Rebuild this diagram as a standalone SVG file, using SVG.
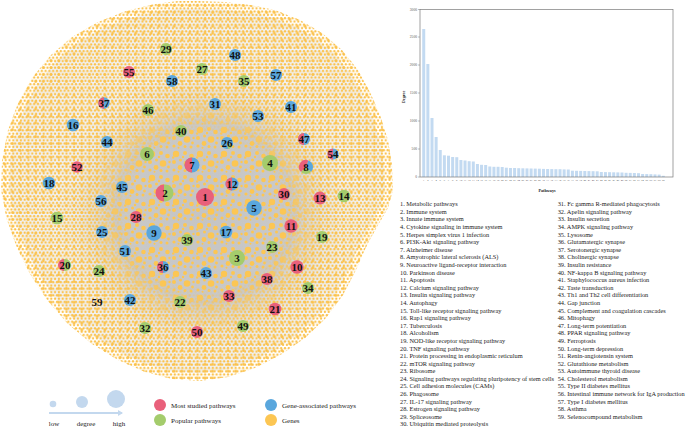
<svg xmlns="http://www.w3.org/2000/svg" width="685" height="428" viewBox="0 0 685 428">
<style>
.r{fill:#e9607b}.b{fill:#5aa7dd}.g{fill:#a4cc6c}.y{fill:#fcc653}
.lbl{font-family:"Liberation Serif",serif;font-weight:bold;font-size:11px;text-anchor:middle;fill:#111}
.leg{font-family:"Liberation Serif",serif;font-size:7px;fill:#222}
.lst{font-family:"Liberation Serif",serif;font-size:6.35px;fill:#222}
.tk{font-family:"Liberation Serif",serif;font-size:3.6px;fill:#555;text-anchor:end}
.xt{font-family:"Liberation Serif",serif;font-size:2.6px;fill:#555;text-anchor:middle}
.ax{font-family:"Liberation Serif",serif;font-weight:bold;font-size:4.2px;fill:#222;text-anchor:middle}
.bar rect{fill:#c3daf1}
</style>
<defs>
<polygon id="blobShape" points="198,1 225,2 250,5 275,10 300,20 322,33 342,50 358,70 370,92 380,115 388,140 392,165 393,190 388,208 378,225 367,245 356,270 343,295 326,318 305,338 282,354 255,368 228,377 200,381 172,379 145,372 118,360 92,344 68,324 47,300 30,274 17,248 7,220 1,190 2,160 8,130 18,103 32,78 50,56 72,37 98,22 126,11 155,4 178,1"/>
<clipPath id="blobClip"><use href="#blobShape"/></clipPath>
<pattern id="pSmall" width="3.8" height="6.6" patternUnits="userSpaceOnUse">
<circle cx="1.9" cy="1.65" r="1.15" fill="#fbc14a"/><circle cx="0" cy="4.95" r="1.15" fill="#fbc14a"/><circle cx="3.8" cy="4.95" r="1.15" fill="#fbc14a"/>
</pattern>
<pattern id="pSpark" width="7.7" height="6.9" patternUnits="userSpaceOnUse" x="1" y="2">
<circle cx="3.8" cy="3.4" r="1.5" fill="#fbc14a"/>
</pattern>
<pattern id="pBig" width="24" height="24" patternUnits="userSpaceOnUse" x="3" y="5">
<g fill="#fcc653">
<circle cx="5" cy="5" r="3.2"/><circle cx="14" cy="4" r="2"/><circle cx="20.5" cy="7" r="2.3"/><circle cx="9.5" cy="11" r="1.5"/><circle cx="3" cy="13" r="2"/><circle cx="16" cy="14.5" r="3.3"/><circle cx="9" cy="18.5" r="2.4"/><circle cx="21.5" cy="18" r="1.4"/><circle cx="3" cy="21" r="1.6"/><circle cx="14" cy="21.5" r="1.5"/><circle cx="20" cy="22" r="1.5"/><circle cx="12" cy="8" r="1.2"/><circle cx="2.2" cy="8.5" r="1.2"/><circle cx="22.5" cy="13" r="1.2"/><circle cx="7.5" cy="22.8" r="1"/>
</g>
</pattern>
<radialGradient id="gGray" gradientUnits="userSpaceOnUse" cx="205" cy="212" r="150">
<stop offset="0" stop-color="#c4c4c4"/><stop offset="0.6" stop-color="#c9c9c9"/><stop offset="1" stop-color="#ebebeb" stop-opacity="0"/>
</radialGradient>
<radialGradient id="gIn" gradientUnits="userSpaceOnUse" cx="205" cy="212" r="150">
<stop offset="0" stop-color="#fff"/><stop offset="0.55" stop-color="#fff"/><stop offset="0.8" stop-color="#000"/>
</radialGradient>
<radialGradient id="gOut" gradientUnits="userSpaceOnUse" cx="205" cy="212" r="150">
<stop offset="0" stop-color="#000"/><stop offset="0.5" stop-color="#000"/><stop offset="0.75" stop-color="#fff"/>
</radialGradient>
<mask id="mIn" maskUnits="userSpaceOnUse" x="0" y="0" width="400" height="390"><rect x="0" y="0" width="400" height="390" fill="url(#gIn)"/></mask>
<mask id="mOut" maskUnits="userSpaceOnUse" x="0" y="0" width="400" height="390"><rect x="0" y="0" width="400" height="390" fill="url(#gOut)"/></mask>
<marker id="arr" markerWidth="6" markerHeight="6" refX="4" refY="3" orient="auto" markerUnits="userSpaceOnUse"><path d="M0,0 L5,3 L0,6 Z" fill="#c3d8ee"/></marker>
</defs>
<rect width="685" height="428" fill="#fff"/>

<g id="connectors">
<use href="#blobShape" fill="#f1f1f1" transform="translate(197,190) scale(0.96) translate(-197,-190)"/>
<ellipse cx="205" cy="212" rx="150" ry="150" fill="url(#gGray)"/>
<g clip-path="url(#blobClip)">
<rect x="0" y="0" width="400" height="390" fill="url(#pSmall)" mask="url(#mOut)"/>
<rect x="0" y="0" width="400" height="390" fill="url(#pSpark)" mask="url(#mOut)"/>
<rect x="0" y="0" width="400" height="390" fill="url(#pBig)" mask="url(#mIn)"/>
</g>
</g>

<g id="nodes">
<g id="n1"><circle class="r" cx="205" cy="197" r="9"/><text class="lbl" x="205" y="200.7">1</text></g>
<g id="n2"><circle class="g" cx="165" cy="193" r="8.5"/><path class="r" d="M164,184.5 A8.5 8.5 0 0 0 164,201.5 Z"/><text class="lbl" x="165" y="196.7">2</text></g>
<g id="n3"><circle class="g" cx="237" cy="258" r="8"/><text class="lbl" x="237" y="261.7">3</text></g>
<g id="n4"><circle class="g" cx="270" cy="163" r="8"/><text class="lbl" x="270" y="166.7">4</text></g>
<g id="n5"><circle class="b" cx="254" cy="208" r="7.7"/><text class="lbl" x="254" y="211.7">5</text></g>
<g id="n6"><circle class="g" cx="147" cy="154" r="7"/><text class="lbl" x="147" y="157.7">6</text></g>
<g id="n7"><circle class="b" cx="192" cy="165" r="7.5"/><path class="r" d="M192,157.5 A7.5 7.5 0 0 0 192,172.5 Z"/><text class="lbl" x="192" y="168.7">7</text></g>
<g id="n8"><path class="r" d="M306,167 L301.05,171.95 A7 7 0 0 1 308.39,160.42 Z"/><path class="b" d="M306,167 L308.39,160.42 A7 7 0 0 1 310.95,171.95 Z"/><path class="g" d="M306,167 L310.95,171.95 A7 7 0 0 1 301.05,171.95 Z"/><text class="lbl" x="306" y="170.7">8</text></g>
<g id="n9"><circle class="b" cx="154" cy="233" r="7.7"/><text class="lbl" x="154" y="236.7">9</text></g>
<g id="n10"><circle class="r" cx="297" cy="267" r="6.7"/><text class="lbl" x="297" y="270.7">10</text></g>
<g id="n11"><circle class="r" cx="291" cy="226" r="6.7"/><text class="lbl" x="291" y="229.7">11</text></g>
<g id="n12"><circle class="b" cx="232" cy="184" r="6.5"/><path class="r" d="M232,177.5 A6.5 6.5 0 0 0 232,190.5 Z"/><text class="lbl" x="232" y="187.7">12</text></g>
<g id="n13"><circle class="r" cx="320" cy="198" r="6.5"/><text class="lbl" x="320" y="201.7">13</text></g>
<g id="n14"><circle class="g" cx="344" cy="196" r="6.3"/><text class="lbl" x="344" y="199.7">14</text></g>
<g id="n15"><circle class="g" cx="57" cy="218" r="6.3"/><text class="lbl" x="57" y="221.7">15</text></g>
<g id="n16"><circle class="b" cx="73" cy="125" r="6.3"/><text class="lbl" x="73" y="128.7">16</text></g>
<g id="n17"><circle class="b" cx="226" cy="232" r="6.3"/><text class="lbl" x="226" y="235.7">17</text></g>
<g id="n18"><circle class="b" cx="49" cy="183" r="6.3"/><text class="lbl" x="49" y="186.7">18</text></g>
<g id="n19"><circle class="g" cx="322" cy="237" r="6"/><text class="lbl" x="322" y="240.7">19</text></g>
<g id="n20"><circle class="g" cx="65" cy="265" r="6"/><path class="r" d="M64,259 A6 6 0 0 0 64,271 Z"/><text class="lbl" x="65" y="268.7">20</text></g>
<g id="n21"><circle class="r" cx="275" cy="309" r="6.3"/><text class="lbl" x="275" y="312.7">21</text></g>
<g id="n22"><circle class="g" cx="180" cy="302" r="6"/><text class="lbl" x="180" y="305.7">22</text></g>
<g id="n23"><circle class="g" cx="272" cy="247" r="6"/><text class="lbl" x="272" y="250.7">23</text></g>
<g id="n24"><circle class="g" cx="99" cy="271" r="6"/><text class="lbl" x="99" y="274.7">24</text></g>
<g id="n25"><circle class="b" cx="102" cy="232" r="6"/><text class="lbl" x="102" y="235.7">25</text></g>
<g id="n26"><circle class="b" cx="227" cy="143" r="6"/><path class="g" d="M227,143 L232.64,145.05 A6 6 0 0 1 228.04,148.91 Z"/><text class="lbl" x="227" y="146.7">26</text></g>
<g id="n27"><circle class="g" cx="202" cy="69" r="6"/><text class="lbl" x="202" y="72.7">27</text></g>
<g id="n28"><circle class="r" cx="136" cy="217" r="6"/><text class="lbl" x="136" y="220.7">28</text></g>
<g id="n29"><circle class="g" cx="166" cy="49" r="6"/><text class="lbl" x="166" y="52.7">29</text></g>
<g id="n30"><circle class="r" cx="284" cy="194" r="6"/><text class="lbl" x="284" y="197.7">30</text></g>
<g id="n31"><circle class="b" cx="215" cy="104" r="6"/><text class="lbl" x="215" y="107.7">31</text></g>
<g id="n32"><circle class="g" cx="145" cy="328" r="6"/><text class="lbl" x="145" y="331.7">32</text></g>
<g id="n33"><circle class="r" cx="229" cy="296" r="6"/><text class="lbl" x="229" y="299.7">33</text></g>
<g id="n34"><circle class="g" cx="308" cy="288" r="6"/><text class="lbl" x="308" y="291.7">34</text></g>
<g id="n35"><circle class="g" cx="244" cy="81" r="6"/><text class="lbl" x="244" y="84.7">35</text></g>
<g id="n36"><circle class="b" cx="163" cy="267" r="6"/><path class="r" d="M163,261 A6 6 0 0 0 163,273 Z"/><text class="lbl" x="163" y="270.7">36</text></g>
<g id="n37"><circle class="b" cx="104" cy="103" r="5.7"/><path class="r" d="M104,97.3 A5.7 5.7 0 0 0 104,108.7 Z"/><text class="lbl" x="104" y="106.7">37</text></g>
<g id="n38"><circle class="r" cx="267" cy="279" r="6"/><text class="lbl" x="267" y="282.7">38</text></g>
<g id="n39"><circle class="g" cx="187" cy="240" r="6"/><text class="lbl" x="187" y="243.7">39</text></g>
<g id="n40"><circle class="g" cx="181" cy="131" r="6"/><text class="lbl" x="181" y="134.7">40</text></g>
<g id="n41"><circle class="b" cx="291" cy="107" r="6"/><text class="lbl" x="291" y="110.7">41</text></g>
<g id="n42"><circle class="b" cx="130" cy="300" r="6"/><text class="lbl" x="130" y="303.7">42</text></g>
<g id="n43"><circle class="b" cx="206" cy="273" r="6"/><text class="lbl" x="206" y="276.7">43</text></g>
<g id="n44"><circle class="b" cx="107" cy="142" r="6"/><text class="lbl" x="107" y="145.7">44</text></g>
<g id="n45"><circle class="b" cx="122" cy="187" r="6"/><text class="lbl" x="122" y="190.7">45</text></g>
<g id="n46"><circle class="g" cx="148" cy="110" r="6"/><text class="lbl" x="148" y="113.7">46</text></g>
<g id="n47"><circle class="b" cx="304" cy="139" r="6"/><path class="r" d="M304,133 A6 6 0 0 0 304,145 Z"/><text class="lbl" x="304" y="142.7">47</text></g>
<g id="n48"><circle class="b" cx="235" cy="55" r="6"/><text class="lbl" x="235" y="58.7">48</text></g>
<g id="n49"><circle class="g" cx="243" cy="326" r="6"/><text class="lbl" x="243" y="329.7">49</text></g>
<g id="n50"><circle class="r" cx="197" cy="332" r="6"/><text class="lbl" x="197" y="335.7">50</text></g>
<g id="n51"><circle class="b" cx="125" cy="251" r="6"/><text class="lbl" x="125" y="254.7">51</text></g>
<g id="n52"><circle class="r" cx="77" cy="167" r="5.7"/><text class="lbl" x="77" y="170.7">52</text></g>
<g id="n53"><circle class="b" cx="258" cy="116" r="6"/><text class="lbl" x="258" y="119.7">53</text></g>
<g id="n54"><circle class="b" cx="333" cy="154" r="5.5"/><path class="r" d="M333,148.5 A5.5 5.5 0 0 0 333,159.5 Z"/><text class="lbl" x="333" y="157.7">54</text></g>
<g id="n55"><circle class="r" cx="129" cy="72" r="6"/><text class="lbl" x="129" y="75.7">55</text></g>
<g id="n56"><circle class="b" cx="101" cy="201" r="6"/><text class="lbl" x="101" y="204.7">56</text></g>
<g id="n57"><circle class="b" cx="276" cy="75" r="6"/><text class="lbl" x="276" y="78.7">57</text></g>
<g id="n58"><circle class="b" cx="172" cy="81" r="6"/><text class="lbl" x="172" y="84.7">58</text></g>
<g id="n59"><text class="lbl" x="97" y="305.7">59</text></g>
</g>

<g id="legend">
<circle cx="53" cy="404" r="3.3" fill="#c3d8ee"/><circle cx="82" cy="402" r="6" fill="#c3d8ee"/><circle cx="116" cy="399" r="9" fill="#c3d8ee"/>
<line x1="49" y1="413" x2="122" y2="413" stroke="#c3d8ee" stroke-width="2" marker-end="url(#arr)"/>
<text class="leg" x="54" y="425.5" text-anchor="middle">low</text>
<text class="leg" x="86" y="425.5" text-anchor="middle">degree</text>
<text class="leg" x="119" y="425.5" text-anchor="middle">high</text>
<circle class="r" cx="160" cy="405" r="6"/><text class="leg" x="171" y="407.5">Most studied pathways</text>
<circle class="g" cx="160" cy="420" r="6"/><text class="leg" x="171" y="422.5">Popular pathways</text>
<circle class="b" cx="271" cy="405" r="6"/><text class="leg" x="282" y="407.5">Gene-associated pathways</text>
<circle class="y" cx="271" cy="420" r="6"/><text class="leg" x="282" y="422.5">Genes</text>
</g>

<g id="chart">
<g class="bar">
<rect x="422.23" y="29" width="3" height="148"/><rect x="426.36" y="64" width="3" height="113"/><rect x="430.49" y="118" width="3" height="59"/><rect x="434.62" y="137" width="3" height="40"/><rect x="438.75" y="150" width="3" height="27"/><rect x="442.88" y="155.3" width="3" height="21.7"/><rect x="447.01" y="155.7" width="3" height="21.3"/><rect x="451.14" y="157" width="3" height="20"/><rect x="455.27" y="157.2" width="3" height="19.8"/><rect x="459.4" y="160" width="3" height="17"/>
<rect x="463.53" y="160.5" width="3" height="16.5"/><rect x="467.66" y="161.2" width="3" height="15.8"/><rect x="471.79" y="161.5" width="3" height="15.5"/><rect x="475.92" y="164" width="3" height="13"/><rect x="480.05" y="164.8" width="3" height="12.2"/><rect x="484.18" y="165" width="3" height="12"/><rect x="488.31" y="166.5" width="3" height="10.5"/><rect x="492.44" y="166.8" width="3" height="10.2"/><rect x="496.57" y="166.8" width="3" height="10.2"/><rect x="500.7" y="167" width="3" height="10"/>
<rect x="504.83" y="167.7" width="3" height="9.3"/><rect x="508.96" y="168" width="3" height="9"/><rect x="513.09" y="168" width="3" height="9"/><rect x="517.22" y="168.2" width="3" height="8.8"/><rect x="521.35" y="168.3" width="3" height="8.7"/><rect x="525.48" y="168.4" width="3" height="8.6"/><rect x="529.61" y="168.5" width="3" height="8.5"/><rect x="533.74" y="168.6" width="3" height="8.4"/><rect x="537.87" y="168.7" width="3" height="8.3"/><rect x="542" y="168.9" width="3" height="8.1"/>
<rect x="546.13" y="169" width="3" height="8"/><rect x="550.26" y="169.1" width="3" height="7.9"/><rect x="554.39" y="169.2" width="3" height="7.8"/><rect x="558.52" y="169.2" width="3" height="7.8"/><rect x="562.65" y="169.4" width="3" height="7.6"/><rect x="566.78" y="169.5" width="3" height="7.5"/><rect x="570.91" y="170.7" width="3" height="6.3"/><rect x="575.04" y="170.8" width="3" height="6.2"/><rect x="579.17" y="170.9" width="3" height="6.1"/><rect x="583.3" y="171" width="3" height="6"/>
<rect x="587.43" y="171.1" width="3" height="5.9"/><rect x="591.56" y="171.2" width="3" height="5.8"/><rect x="595.69" y="171.3" width="3" height="5.7"/><rect x="599.82" y="172" width="3" height="5"/><rect x="603.95" y="172.1" width="3" height="4.9"/><rect x="608.08" y="172.2" width="3" height="4.8"/><rect x="612.21" y="172.3" width="3" height="4.7"/><rect x="616.34" y="172.4" width="3" height="4.6"/><rect x="620.47" y="172.5" width="3" height="4.5"/><rect x="624.6" y="172.8" width="3" height="4.2"/>
<rect x="628.73" y="172.9" width="3" height="4.1"/><rect x="632.86" y="173" width="3" height="4"/><rect x="636.99" y="173.2" width="3" height="3.8"/><rect x="641.12" y="174" width="3" height="3"/><rect x="645.25" y="174.1" width="3" height="2.9"/><rect x="649.38" y="174.2" width="3" height="2.8"/><rect x="653.51" y="174.4" width="3" height="2.6"/><rect x="657.64" y="174.6" width="3" height="2.4"/><rect x="661.77" y="175.8" width="3" height="1.2"/>
</g>
<rect x="420" y="9.5" width="253" height="167.5" fill="none" stroke="#7a7a7a" stroke-width="0.7"/>
<path d="M418,177H420M418,149H420M418,121H420M418,93H420M418,65H420M418,37H420M418,9.5H420" stroke="#7a7a7a" stroke-width="0.5"/>
<text class="tk" x="417" y="178.2">0</text><text class="tk" x="417" y="150.2">500</text><text class="tk" x="417" y="122.2">1000</text><text class="tk" x="417" y="94.2">1500</text><text class="tk" x="417" y="66.2">2000</text><text class="tk" x="417" y="38.2">2500</text><text class="tk" x="417" y="10.7">3000</text>
<text class="ax" transform="translate(404.5,97) rotate(-90)">Degree</text>
<text class="ax" x="547" y="191.5">Pathways</text>
<g>
<text class="xt" x="423.73" y="181.3">1</text><text class="xt" x="427.86" y="181.3">2</text><text class="xt" x="431.99" y="181.3">3</text><text class="xt" x="436.12" y="181.3">4</text><text class="xt" x="440.25" y="181.3">5</text><text class="xt" x="444.38" y="181.3">6</text><text class="xt" x="448.51" y="181.3">7</text><text class="xt" x="452.64" y="181.3">8</text><text class="xt" x="456.77" y="181.3">9</text><text class="xt" x="460.9" y="181.3">10</text>
<text class="xt" x="465.03" y="181.3">11</text><text class="xt" x="469.16" y="181.3">12</text><text class="xt" x="473.29" y="181.3">13</text><text class="xt" x="477.42" y="181.3">14</text><text class="xt" x="481.55" y="181.3">15</text><text class="xt" x="485.68" y="181.3">16</text><text class="xt" x="489.81" y="181.3">17</text><text class="xt" x="493.94" y="181.3">18</text><text class="xt" x="498.07" y="181.3">19</text><text class="xt" x="502.2" y="181.3">20</text>
<text class="xt" x="506.33" y="181.3">21</text><text class="xt" x="510.46" y="181.3">22</text><text class="xt" x="514.59" y="181.3">23</text><text class="xt" x="518.72" y="181.3">24</text><text class="xt" x="522.85" y="181.3">25</text><text class="xt" x="526.98" y="181.3">26</text><text class="xt" x="531.11" y="181.3">27</text><text class="xt" x="535.24" y="181.3">28</text><text class="xt" x="539.37" y="181.3">29</text><text class="xt" x="543.5" y="181.3">30</text>
<text class="xt" x="547.63" y="181.3">31</text><text class="xt" x="551.76" y="181.3">32</text><text class="xt" x="555.89" y="181.3">33</text><text class="xt" x="560.02" y="181.3">34</text><text class="xt" x="564.15" y="181.3">35</text><text class="xt" x="568.28" y="181.3">36</text><text class="xt" x="572.41" y="181.3">37</text><text class="xt" x="576.54" y="181.3">38</text><text class="xt" x="580.67" y="181.3">39</text><text class="xt" x="584.8" y="181.3">40</text>
<text class="xt" x="588.93" y="181.3">41</text><text class="xt" x="593.06" y="181.3">42</text><text class="xt" x="597.19" y="181.3">43</text><text class="xt" x="601.32" y="181.3">44</text><text class="xt" x="605.45" y="181.3">45</text><text class="xt" x="609.58" y="181.3">46</text><text class="xt" x="613.71" y="181.3">47</text><text class="xt" x="617.84" y="181.3">48</text><text class="xt" x="621.97" y="181.3">49</text><text class="xt" x="626.1" y="181.3">50</text>
<text class="xt" x="630.23" y="181.3">51</text><text class="xt" x="634.36" y="181.3">52</text><text class="xt" x="638.49" y="181.3">53</text><text class="xt" x="642.62" y="181.3">54</text><text class="xt" x="646.75" y="181.3">55</text><text class="xt" x="650.88" y="181.3">56</text><text class="xt" x="655.01" y="181.3">57</text><text class="xt" x="659.14" y="181.3">58</text><text class="xt" x="663.27" y="181.3">59</text>
</g>
</g>

<g id="pathway-list">
<text class="lst">
<tspan x="400" y="206.3">1. Metabolic pathways</tspan>
<tspan x="400" dy="7.59">2. Immune system</tspan>
<tspan x="400" dy="7.59">3. Innate immune system</tspan>
<tspan x="400" dy="7.59">4. Cytokine signaling in immune system</tspan>
<tspan x="400" dy="7.59">5. Herpes simplex virus 1 infection</tspan>
<tspan x="400" dy="7.59">6. PI3K-Akt signaling pathway</tspan>
<tspan x="400" dy="7.59">7. Alzheimer disease</tspan>
<tspan x="400" dy="7.59">8. Amyotrophic lateral sclerosis (ALS)</tspan>
<tspan x="400" dy="7.59">9. Neuroactive ligand-receptor interaction</tspan>
<tspan x="400" dy="7.59">10. Parkinson disease</tspan>
<tspan x="400" dy="7.59">11. Apoptosis</tspan>
<tspan x="400" dy="7.59">12. Calcium signaling pathway</tspan>
<tspan x="400" dy="7.59">13. Insulin signaling pathway</tspan>
<tspan x="400" dy="7.59">14. Autophagy</tspan>
<tspan x="400" dy="7.59">15. Toll-like receptor signaling pathway</tspan>
<tspan x="400" dy="7.59">16. Rap1 signaling pathway</tspan>
<tspan x="400" dy="7.59">17. Tuberculosis</tspan>
<tspan x="400" dy="7.59">18. Alcoholism</tspan>
<tspan x="400" dy="7.59">19. NOD-like receptor signaling pathway</tspan>
<tspan x="400" dy="7.59">20. TNF signaling pathway</tspan>
<tspan x="400" dy="7.59">21. Protein processing in endoplasmic reticulum</tspan>
<tspan x="400" dy="7.59">22. mTOR signaling pathway</tspan>
<tspan x="400" dy="7.59">23. Ribosome</tspan>
<tspan x="400" dy="7.59">24. Signaling pathways regulating pluripotency of stem cells</tspan>
<tspan x="400" dy="7.59">25. Cell adhesion molecules (CAMs)</tspan>
<tspan x="400" dy="7.59">26. Phagosome</tspan>
<tspan x="400" dy="7.59">27. IL-17 signaling pathway</tspan>
<tspan x="400" dy="7.59">28. Estrogen signaling pathway</tspan>
<tspan x="400" dy="7.59">29. Spliceosome</tspan>
<tspan x="400" dy="7.59">30. Ubiquitin mediated proteolysis</tspan>
</text>
<text class="lst">
<tspan x="557.7" y="206.3">31. Fc gamma R-mediated phagocytosis</tspan>
<tspan x="557.7" dy="7.59">32. Apelin signaling pathway</tspan>
<tspan x="557.7" dy="7.59">33. Insulin secretion</tspan>
<tspan x="557.7" dy="7.59">34. AMPK signaling pathway</tspan>
<tspan x="557.7" dy="7.59">35. Lysosome</tspan>
<tspan x="557.7" dy="7.59">36. Glutamatergic synapse</tspan>
<tspan x="557.7" dy="7.59">37. Serotonergic synapse</tspan>
<tspan x="557.7" dy="7.59">38. Cholinergic synapse</tspan>
<tspan x="557.7" dy="7.59">39. Insulin resistance</tspan>
<tspan x="557.7" dy="7.59">40. NF-kappa B signaling pathway</tspan>
<tspan x="557.7" dy="7.59">41. Staphylococcus aureus infection</tspan>
<tspan x="557.7" dy="7.59">42. Taste transduction</tspan>
<tspan x="557.7" dy="7.59">43. Th1 and Th2 cell differentiation</tspan>
<tspan x="557.7" dy="7.59">44. Gap junction</tspan>
<tspan x="557.7" dy="7.59">45. Complement and coagulation cascades</tspan>
<tspan x="557.7" dy="7.59">46. Mitophagy</tspan>
<tspan x="557.7" dy="7.59">47. Long-term potentiation</tspan>
<tspan x="557.7" dy="7.59">48. PPAR signaling pathway</tspan>
<tspan x="557.7" dy="7.59">49. Ferroptosis</tspan>
<tspan x="557.7" dy="7.59">50. Long-term depression</tspan>
<tspan x="557.7" dy="7.59">51. Renin-angiotensin system</tspan>
<tspan x="557.7" dy="7.59">52. Glutathione metabolism</tspan>
<tspan x="557.7" dy="7.59">53. Autoimmune thyroid disease</tspan>
<tspan x="557.7" dy="7.59">54. Cholesterol metabolism</tspan>
<tspan x="557.7" dy="7.59">55. Type II diabetes mellitus</tspan>
<tspan x="557.7" dy="7.59">56. Intestinal immune network for IgA production</tspan>
<tspan x="557.7" dy="7.59">57. Type I diabetes mellitus</tspan>
<tspan x="557.7" dy="7.59">58. Asthma</tspan>
<tspan x="557.7" dy="7.59">59. Selenocompound metabolism</tspan>
</text>
</g>
</svg>
